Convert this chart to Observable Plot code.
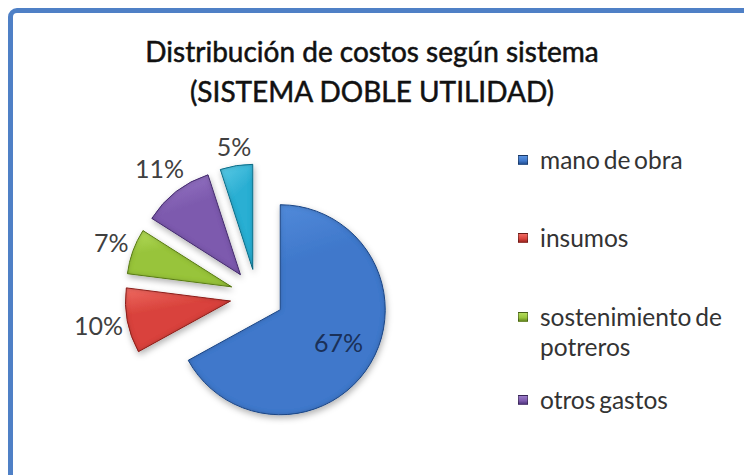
<!DOCTYPE html>
<html>
<head>
<meta charset="utf-8">
<script src="https://cdn.jsdelivr.net/npm/d3@7"></script>
<script src="https://cdn.jsdelivr.net/npm/@observablehq/plot@0.6"></script>
<style>
  html, body { margin: 0; padding: 0; background: #fff; }
  #wrap { position: relative; width: 744px; height: 475px; overflow: hidden; background: #fff; font-family: Lato, "Open Sans", sans-serif; }
  #frame { position: absolute; left: 8px; top: 8px; width: 820px; height: 540px; border: 5px solid #4f80c6; border-radius: 9px; background: #fff; box-sizing: border-box; }
  #chart { position: absolute; left: 0; top: 0; }
  #title { position: absolute; left: 0; top: 31px; width: 744px; text-align: center; font-size: 28px; font-weight: normal; line-height: 40px; color: #111; -webkit-text-stroke: 0.5px #111; }
  .item { position: absolute; left: 517px; font-size: 24.5px; line-height: 30px; color: #333; white-space: nowrap; word-spacing: -2.5px; }
  .item .sw { position: absolute; left: 1px; top: 10px; width: 10px; height: 10px; box-sizing: border-box; border: 1px solid rgba(0,0,0,0.35); }
  .item .tx { position: absolute; left: 23px; top: 0; }
</style>
</head>
<body>
<div id="wrap">
  <div id="frame"></div>
  <div id="chart"></div>
  <div id="title"></div>
  <div id="legend"></div>
</div>
<script>
// ---- data ----
const titleLines = ["Distribución de costos según sistema", "(SISTEMA DOBLE UTILIDAD)"];
const categories = ["mano de obra", "insumos", "sostenimiento de potreros", "otros gastos", "imprevistos"];
const values = [67, 10, 7, 11, 5];
const labels = ["67%", "10%", "7%", "11%", "5%"];
const baseColors = ["#3f78cb", "#d9433c", "#98c43b", "#7d5aae", "#2cafd3"];
const lightColors = ["#5a92e0", "#ee6a62", "#b4dc5c", "#9a7bc8", "#5ccbe6"];
const edgeColors = ["#234f92", "#9a2520", "#64891e", "#4f357c", "#177a97"];
const legendCategories = categories.slice(0, 4);
const legendLines = [["mano de obra"], ["insumos"], ["sostenimiento de", "potreros"], ["otros gastos"]];
const legendTops = [145, 223, 302, 385];

// ---- layout constants (pixels) ----
const W = 744, H = 475;
const R = 105;            // pie radius in px
const CX = 257, CY = 296; // pie centre in px
const explode = 27 / R;   // explosion in radius units

document.getElementById("title").innerHTML = titleLines.map(t => `<div>${t}</div>`).join("");

const legend = document.getElementById("legend");
legendCategories.forEach((c, i) => {
  const it = document.createElement("div");
  it.className = "item";
  it.style.top = legendTops[i] + "px";
  it.innerHTML = `<div class="sw" style="background:linear-gradient(${lightColors[i]},${baseColors[i]} 60%,${edgeColors[i]})"></div>` +
    `<div class="tx">${legendLines[i].join("<br>")}</div>`;
  legend.appendChild(it);
});

const pie = d3.pie().sort(null).value(d => d).startAngle(0).endAngle(2 * Math.PI)(values);
const rows = pie.map((a, i) => {
  const mid = (a.startAngle + a.endAngle) / 2;
  return {
    i, category: categories[i], value: values[i], label: labels[i],
    start: a.startAngle, end: a.endAngle, mid,
    ax: explode * Math.sin(mid), ay: explode * Math.cos(mid)
  };
});

function labelDist(d) {
  if (d.value > 50) return 0.64;
  const hw = d.label.length * 7.5, hh = 10;
  return (R + 6 + Math.abs(Math.sin(d.mid)) * hw + Math.abs(Math.cos(d.mid)) * hh) / R;
}

const wedges = Plot.dot(rows, {
  x: "ax", y: "ay", r: 0,
  render: (index, scales, vals, dims, context) => {
    const k = scales.x(1) - scales.x(0);
    const g = d3.create("svg:g");
    const defs = g.append("defs");
    const f = defs.append("filter").attr("id", "bevel").attr("x", "-20%").attr("y", "-20%").attr("width", "150%").attr("height", "150%");
    f.append("feGaussianBlur").attr("in", "SourceAlpha").attr("stdDeviation", 2.5).attr("result", "b");
    f.append("feComposite").attr("in", "SourceAlpha").attr("in2", "b").attr("operator", "arithmetic").attr("k2", 1).attr("k3", -1).attr("result", "edge");
    f.append("feFlood").attr("flood-color", "#000").attr("flood-opacity", 0.5).attr("result", "c");
    f.append("feComposite").attr("in", "c").attr("in2", "edge").attr("operator", "in").attr("result", "shade");
    f.append("feOffset").attr("in", "SourceAlpha").attr("dx", 1).attr("dy", 3).attr("result", "o");
    f.append("feGaussianBlur").attr("in", "o").attr("stdDeviation", 3).attr("result", "ob");
    f.append("feFlood").attr("flood-color", "#000").attr("flood-opacity", 0.3).attr("result", "c2");
    f.append("feComposite").attr("in", "c2").attr("in2", "ob").attr("operator", "in").attr("result", "drop");
    const m = f.append("feMerge");
    m.append("feMergeNode").attr("in", "drop");
    m.append("feMergeNode").attr("in", "SourceGraphic");
    m.append("feMergeNode").attr("in", "shade");
    rows.forEach((d, i) => {
      const lg = defs.append("linearGradient").attr("id", "grad" + i).attr("x1", 0).attr("y1", 0).attr("x2", 0.3).attr("y2", 1);
      lg.append("stop").attr("offset", "0%").attr("stop-color", lightColors[i]);
      lg.append("stop").attr("offset", "40%").attr("stop-color", baseColors[i]);
      lg.append("stop").attr("offset", "100%").attr("stop-color", baseColors[i]);
    });
    const arc = d3.arc().innerRadius(0).outerRadius(k);
    for (const i of index) {
      const d = rows[i];
      g.append("path")
        .attr("transform", `translate(${vals.x[i]},${vals.y[i]})`)
        .attr("d", arc({startAngle: d.start, endAngle: d.end}))
        .attr("fill", `url(#grad${i})`)
        .attr("stroke", edgeColors[i])
        .attr("stroke-width", 1)
        .attr("stroke-linejoin", "round")
        .attr("filter", "url(#bevel)");
    }
    return g.node();
  }
});

const texts = Plot.text(rows, {
  x: d => d.ax + labelDist(d) * Math.sin(d.mid),
  y: d => d.ay + labelDist(d) * Math.cos(d.mid),
  text: "label",
  fontSize: 25,
  fontFamily: "Lato, 'Open Sans', sans-serif",
  fill: d => d.value > 50 ? "#1a3058" : "#404040",
  textAnchor: "middle",
  lineAnchor: "middle"
});

const chart = Plot.plot({
  width: W, height: H, margin: 0,
  x: {domain: [-CX / R, (W - CX) / R], axis: null},
  y: {domain: [-(H - CY) / R, CY / R], axis: null},
  style: {background: "transparent", overflow: "visible"},
  marks: [wedges, texts]
});
document.getElementById("chart").appendChild(chart);
</script>
</body>
</html>
